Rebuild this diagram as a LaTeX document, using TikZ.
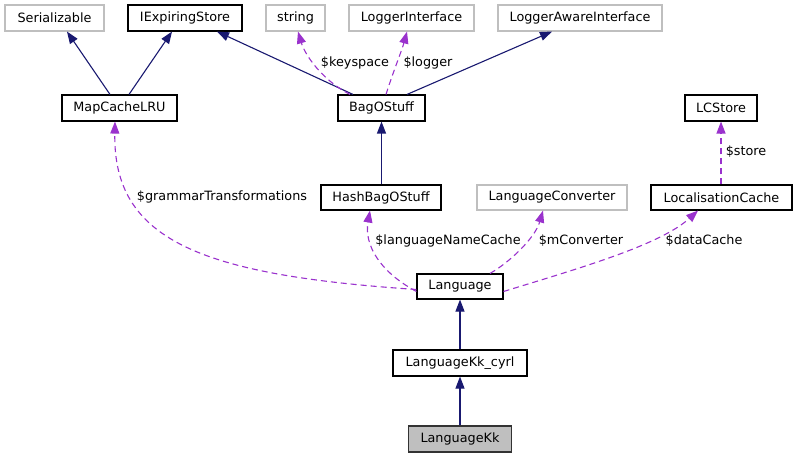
\documentclass[tikz,border=0pt]{standalone}
\usepackage{fontspec}
\setmainfont{DejaVu Sans}
\usetikzlibrary{arrows.meta,calc}
\definecolor{inhcol}{HTML}{191970}
\definecolor{usecol}{HTML}{9A32CD}
\definecolor{extcol}{HTML}{BFBFBF}
\begin{document}
\begin{tikzpicture}[x=1pt,y=-1pt,
  box/.style={draw=black,line width=1.1pt,rectangle,inner sep=0pt,minimum height=26pt,fill=white,font=\fontsize{12.8}{14}\selectfont},
  extbox/.style={box,draw=extcol},
  curbox/.style={box,fill=extcol,draw=black!80},
  inh/.style={draw=inhcol,line width=1.1pt,-{Triangle[length=12pt,width=9pt,fill=inhcol]}},
  use/.style={draw=usecol,line width=1.1pt,dash pattern=on 6pt off 4pt,-{Triangle[length=12pt,width=9pt,fill=usecol]}},
  lbl/.style={font=\fontsize{12.8}{14}\selectfont,inner sep=0pt,text=black}]
\useasboundingbox (0,0) rectangle (797,457);
\node[extbox,minimum width=99pt] (ser) at (54.5,18) {Serializable};
\node[box,minimum width=114pt] (ies) at (185,18) {IExpiringStore};
\node[extbox,minimum width=59pt] (str) at (295.5,18) {string};
\node[extbox,minimum width=125pt] (li) at (411.5,18) {LoggerInterface};
\node[extbox,minimum width=164pt] (lai) at (580,18) {LoggerAwareInterface};
\node[box,minimum width=115pt] (mc) at (119.5,108) {MapCacheLRU};
\node[box,minimum width=87pt] (bag) at (381.5,108) {BagOStuff};
\node[box,minimum width=72pt] (lcs) at (721,108) {LCStore};
\node[box,minimum width=120pt,minimum height=25pt] (hbag) at (381,197.5) {HashBagOStuff};
\node[extbox,minimum width=150pt,minimum height=25pt] (lconv) at (552,197.5) {LanguageConverter};
\node[box,minimum width=141pt,minimum height=25pt] (loc) at (721.5,197.5) {LocalisationCache};
\node[box,minimum width=86pt,minimum height=25pt] (lang) at (460,286.5) {Language};
\node[box,minimum width=134pt] (cyrl) at (460,363) {LanguageKk\_cyrl};
\node[curbox,minimum width=103pt] (kk) at (460,439) {LanguageKk};
% inheritance
\draw[inh] ([xshift=-9.5pt]mc.north) -- ([xshift=12.5pt]ser.south);
\draw[inh] ([xshift=9.5pt]mc.north) -- ([xshift=-13pt]ies.south);
\draw[inh] ([xshift=-28.5pt]bag.north) -- ([xshift=32pt]ies.south);
\draw[inh] ([xshift=25.5pt]bag.north) -- ([xshift=-28pt]lai.south);
\draw[inh] (hbag.north -| bag.south) -- (bag.south);
\draw[inh] (cyrl.north) -- (lang.south);
\draw[inh] (kk.north) -- (cyrl.south);
% usage
\draw[use] ([xshift=-31.5pt]bag.north) .. controls (322,80) and (305,55) .. ([xshift=2.5pt]str.south);
\draw[use] ([xshift=4.5pt]bag.north) .. controls (392,75) and (402,50) .. ([xshift=-4.5pt]li.south);
\draw[use] (loc.north -| lcs.south) -- (lcs.south);
\draw[use] ([yshift=-3pt]lang.west) .. controls (200,275) and (113,240) .. ([xshift=-4.5pt]mc.south);
\draw[use] ([yshift=-5pt]lang.west) .. controls (380,272) and (364,245) .. ([xshift=-11pt]hbag.south);
\draw[use] ([xshift=30pt]lang.north) .. controls (510,262) and (535,238) .. ([xshift=-9pt]lconv.south);
\draw[use] ([yshift=-5pt]lang.east) .. controls (580,268) and (660,245) .. ([xshift=-23.5pt]loc.south);
% labels
\node[lbl] (lks) at (355,63) {\$keyspace};
\node[lbl] (llog) at (428,63) {\$logger};
\node[lbl] (lst) at (746,152) {\$store};
\node[lbl] (lgt) at (222,197) {\$grammarTransformations};
\node[lbl] (llnc) at (448,241) {\$languageNameCache};
\node[lbl] (lmc) at (581,241) {\$mConverter};
\node[lbl] (ldc) at (704,241) {\$dataCache};
\end{tikzpicture}
\end{document}
